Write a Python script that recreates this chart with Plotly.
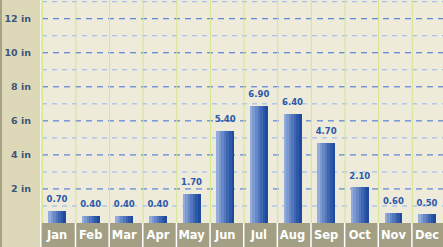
import plotly.graph_objects as go

months = ["Jan", "Feb", "Mar", "Apr", "May", "Jun", "Jul", "Aug", "Sep", "Oct", "Nov", "Dec"]
rain_in = [0.70, 0.40, 0.40, 0.40, 1.70, 5.40, 6.90, 6.40, 4.70, 2.10, 0.60, 0.50]
y_ticks = [2, 4, 6, 8, 10, 12]
y_tick_text = ["2 in", "4 in", "6 in", "8 in", "10 in", "12 in"]

W, H = 443, 247
ML, MB = 42, 24
YMAX = 13.1
XR = [-0.446, 11.474]

stripe_colors = ["#93acdb", "#7c9ad0", "#6688c6", "#5277bc", "#3f66b1", "#2d57a7", "#1f4b9d"]
bar_w = 0.53

fig = go.Figure()
n = len(stripe_colors)
for k, c in enumerate(stripe_colors):
    fig.add_trace(go.Bar(
        x=list(range(len(months))), y=rain_in,
        width=bar_w / n + 0.004, offset=-bar_w / 2 + k * bar_w / n,
        marker=dict(color=c, line=dict(width=0)),
        hoverinfo="skip", showlegend=False,
    ))

fig.add_trace(go.Scatter(
    x=list(range(len(months))), y=rain_in, mode="markers+text",
    marker=dict(size=9, opacity=0),
    text=[f"{v:.2f}" for v in rain_in], textposition="top center",
    textfont=dict(family="DejaVu Sans", size=8.5, color="#2c58a8", weight="bold"),
    cliponaxis=False, hoverinfo="skip", showlegend=False,
))

shapes = []
band_y0 = -MB / (H - MB)
# bottom band
shapes.append(dict(type="rect", xref="paper", yref="paper", x0=-1.5 / (W - ML), x1=1.02,
                   y0=band_y0, y1=0, fillcolor="#a39f84", line=dict(width=0), layer="below"))
for i in range(len(months)):
    shapes.append(dict(type="line", xref="x", yref="paper", x0=i + 0.55, x1=i + 0.55,
                       y0=band_y0, y1=0, line=dict(color="#ffffff", width=1.5), layer="below"))
shapes.append(dict(type="line", xref="paper", yref="paper", x0=-1.2 / (W - ML), x1=-1.2 / (W - ML),
                   y0=band_y0, y1=0, line=dict(color="#ffffff", width=1.5), layer="below"))
# horizontal dashed gridlines
for v in range(1, 14):
    even = v % 2 == 0
    shapes.append(dict(type="line", xref="paper", yref="y", x0=0, x1=1, y0=v, y1=v,
                       line=dict(color="#3a6dd8" if even else "#94b3ea", width=1,
                                 dash="6px,5px" if even else "5px,5px"),
                       layer="below"))
# vertical green separators
for i in range(len(months)):
    shapes.append(dict(type="line", xref="x", yref="paper", x0=i + 0.56, x1=i + 0.56, y0=0, y1=1,
                       line=dict(color="#d4e68c", width=1), layer="below"))
shapes.append(dict(type="line", xref="paper", yref="paper", x0=0.001, x1=0.001, y0=0, y1=1,
                   line=dict(color="#d4e68c", width=1), layer="below"))
# white line at left edge of plot
shapes.append(dict(type="line", xref="paper", yref="paper", x0=-1.2 / (W - ML), x1=-1.2 / (W - ML),
                   y0=0, y1=1, line=dict(color="#ffffff", width=1), layer="below"))
# left panel border
shapes.append(dict(type="line", xref="paper", yref="paper", x0=-(ML - 1) / (W - ML), x1=-(ML - 1) / (W - ML),
                   y0=band_y0, y1=1, line=dict(color="#a8a284", width=2), layer="below"))

fig.update_layout(
    width=W, height=H,
    margin=dict(l=ML, r=0, t=0, b=MB, pad=0),
    paper_bgcolor="#ddd8b8", plot_bgcolor="#efebda",
    barmode="overlay", bargap=0,
    shapes=shapes,
    xaxis=dict(range=XR, tickvals=list(range(len(months))), ticktext=months,
               showgrid=False, zeroline=False, showline=False, ticks="",
               tickfont=dict(family="DejaVu Sans", size=11.5, color="#ffffff", weight="bold"),
               ticklabelstandoff=3, fixedrange=True),
    yaxis=dict(range=[0, YMAX], tickvals=y_ticks, ticktext=y_tick_text,
               showgrid=False, zeroline=False, showline=False, ticks="",
               tickfont=dict(family="DejaVu Sans", size=9.5, color="#3d5578", weight="bold"),
               ticklabelstandoff=10, fixedrange=True),
)

fig.write_html("out.html")
